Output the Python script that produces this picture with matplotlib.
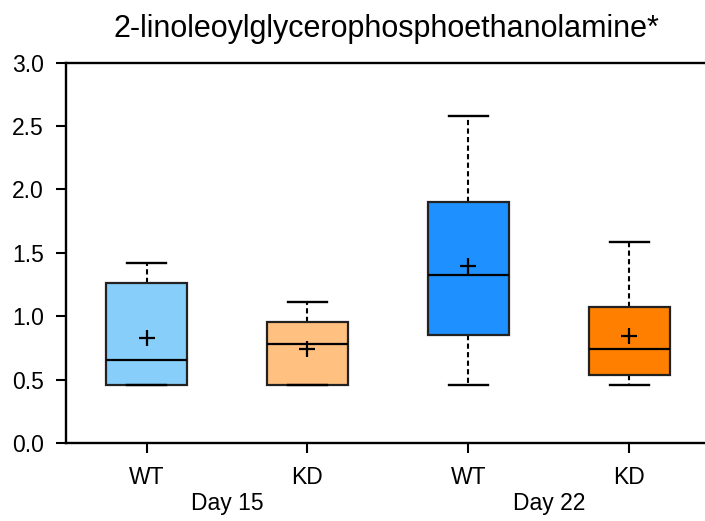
import matplotlib
matplotlib.use("Agg")
import matplotlib.pyplot as plt

plt.rcParams['font.family'] = ['Liberation Sans', 'DejaVu Sans']

# box statistics
groups = ['WT', 'KD', 'WT', 'KD']
days = ['Day 15', 'Day 22']
whislo = [0.461, 0.461, 0.462, 0.461]
q1 = [0.461, 0.461, 0.851, 0.541]
med = [0.659, 0.782, 1.324, 0.741]
q3 = [1.266, 0.956, 1.901, 1.074]
whishi = [1.419, 1.113, 2.581, 1.589]
means = [0.832, 0.745, 1.400, 0.846]
colors = ['#87CEFA', '#FFC080', '#1E90FF', '#FF8000']

stats = []
for i in range(len(groups)):
    stats.append(dict(whislo=whislo[i], q1=q1[i], med=med[i], q3=q3[i],
                      whishi=whishi[i], mean=means[i], fliers=[], label=groups[i]))

fig = plt.figure(figsize=(7.05, 5.21), dpi=100)
# axes run a little past the right edge of the picture
ax = fig.add_axes([66 / 705, 0.149, 644 / 705, 0.731])

pos = [1, 2, 3, 4]
bp = ax.bxp(stats, positions=pos, widths=0.5, patch_artist=True, showmeans=True,
            meanprops=dict(marker='+', markeredgecolor='black', markersize=11, markeredgewidth=1.6),
            medianprops=dict(color='black', linewidth=1.6),
            whiskerprops=dict(color='black', linewidth=1.5, linestyle=(0, (2.5, 1.6))),
            capprops=dict(color='black', linewidth=1.7),
            boxprops=dict(edgecolor='#222222', linewidth=1.6),
            capwidths=0.245)
for patch, c in zip(bp['boxes'], colors):
    patch.set_facecolor(c)
for w in bp['whiskers']:
    w.set_zorder(1)

ax.set_xlim(0.5, 4.5)
ax.set_ylim(0, 3.0)
ax.set_yticks([0, 0.5, 1.0, 1.5, 2.0, 2.5, 3.0])
ax.set_yticklabels(['0.0', '0.5', '1.0', '1.5', '2.0', '2.5', '3.0'])
ax.set_xticks(pos)
ax.set_xticklabels(groups)
ax.tick_params(axis='both', labelsize=16.5, width=1.5, length=7, color='black')
ax.tick_params(axis='x', pad=9)
ax.tick_params(axis='y', pad=9)
ax.spines['right'].set_visible(False)
for s in ['left', 'bottom', 'top']:
    ax.spines[s].set_linewidth(1.7)

ax.text(1.5, -0.47, days[0], ha='center', va='center', fontsize=16.5)
ax.text(3.5, -0.47, days[1], ha='center', va='center', fontsize=16.5)

fig.text(386.5 / 705, 0.9296, '2-linoleoylglycerophosphoethanolamine*', ha='center',
         va='baseline', fontsize=22)

fig.savefig('out.png', dpi=100)
